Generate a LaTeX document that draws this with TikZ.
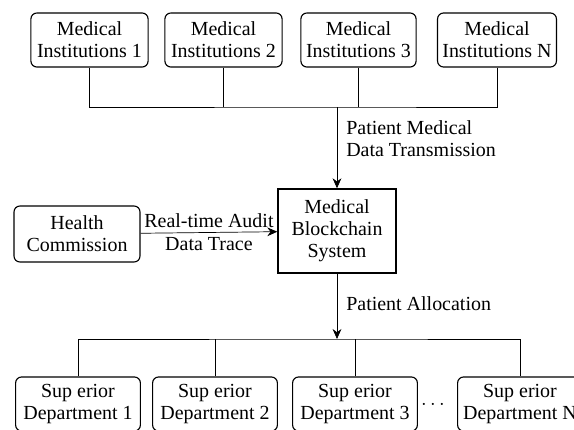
\documentclass[tikz,border=0pt]{standalone}
\usepackage{fontspec}
\setmainfont{Liberation Serif}
\usetikzlibrary{arrows.meta, positioning}

\begin{document}
\begin{tikzpicture}[x=0.025cm, y=-0.025cm,
  font=\fontsize{14.2}{15.8}\selectfont,
  box/.style={draw, line width=0.8pt, rounded corners=0.15cm, align=center,
    inner xsep=0.12cm, minimum height=1.35cm},
  sysbox/.style={draw, line width=1pt, align=center,
    minimum width=2.95cm, minimum height=2.1cm},
  link/.style={line width=0.5pt},
  >={Stealth[length=0.25cm, width=0.22cm]}]
  \useasboundingbox (0,0) rectangle (574,429);
  \clip (0,0) rectangle (574,429);
  % Institutionen oben
  \node[box, minimum width=2.93cm] (m1) at (89.5,40)  {Medical\\Institutions 1};
  \node[box, minimum width=2.93cm] (m2) at (223.5,40) {Medical\\Institutions 2};
  \node[box, minimum width=2.88cm] (m3) at (358.5,40) {Medical\\Institutions 3};
  \node[box, minimum width=2.95cm] (mN) at (497,40)   {Medical\\Institutions N};
  % Mitte
  \node[sysbox] (bc) at (337,231) {Medical\\Blockchain\\System};
  \node[box, minimum width=3.15cm, minimum height=1.4cm] (hc) at (77,234) {Health\\Commission};
  % Abteilungen unten
  \node[box, minimum width=3.12cm] (d1) at (78,404)  {Sup erior\\Department 1};
  \node[box, minimum width=3.12cm] (d2) at (215,404) {Sup erior\\Department 2};
  \node[box, minimum width=3.12cm] (d3) at (355,404) {Sup erior\\Department 3};
  \node[box, minimum width=3.12cm] (dN) at (520,404) {Sup erior\\Department N};
  \node (dots) at (433,405) {$\cdots$};
  % Sammelleitungen
  \coordinate (jt) at (337,107);
  \coordinate (jb) at (337,339);
  \draw[link] (m1.south) |- (jt) -| (mN.south);
  \draw[link] (m2.south) -- (m2.south |- jt);
  \draw[link] (m3.south) -- (m3.south |- jt);
  \draw[link,->] (jt) -- (bc.north);
  \node[anchor=west, align=left, inner sep=0pt] (tx) at (346,139) {Patient Medical\\Data Transmission};
  \draw[link,->] (hc) -- (bc) node[midway, above] (au) {Real-time Audit}
                              node[midway, below] (tr) {Data Trace};
  \draw[link,->] (bc.south) -- (jb);
  \node[anchor=west, inner sep=0pt] (al) at (346,304) {Patient Allocation};
  \draw[link] (d1.north) |- (jb) -| (dN.north);
  \draw[link] (d2.north) -- (d2.north |- jb);
  \draw[link] (d3.north) -- (d3.north |- jb);
\end{tikzpicture}
\end{document}
